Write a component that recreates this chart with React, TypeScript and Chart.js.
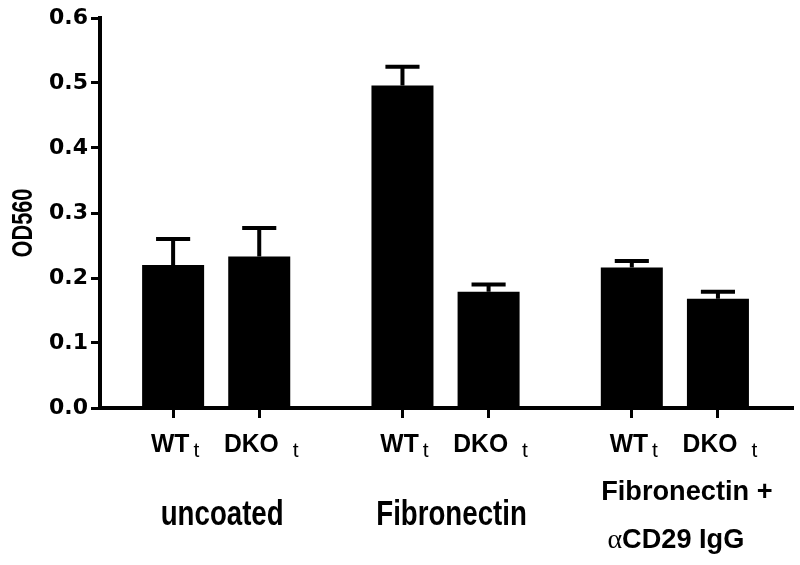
import React, { useEffect, useRef } from 'react';
import { Chart, registerables } from 'chart.js';

Chart.register(...registerables);

// ---- data ----
const groupLabelLines: string[][] = [['uncoated'], ['Fibronectin'], ['Fibronectin +', 'αCD29 IgG']];
const genotypes = ['WT', 'DKO'];
const genotypeSubscript = 't';
const meanWT = [0.22, 0.496, 0.216];
const meanDKO = [0.233, 0.179, 0.168];
const semWT = [0.04, 0.029, 0.01];
const semDKO = [0.044, 0.011, 0.011];
const yMin = 0;
const yMax = 0.6;
const yStep = 0.1;
const yAxisTitle = 'OD560';

// ---- layout constants (not data) ----
const GROUP_STEP = 2.663;
const X_MIN = -0.849;
const X_MAX = 2 * GROUP_STEP + 1 + 0.86;

const SANS = '"Liberation Sans", Arial, sans-serif';

type Run = { text: string; font: string; sx?: number; gap?: number; dy?: number };

function drawRuns(ctx: CanvasRenderingContext2D, runs: Run[], cx: number, baseline: number) {
  const widths = runs.map((r) => {
    ctx.font = r.font;
    return ctx.measureText(r.text).width * (r.sx ?? 1) + (r.gap ?? 0);
  });
  const total = widths.reduce((a, b) => a + b, 0);
  let x = cx - total / 2;
  runs.forEach((r, i) => {
    ctx.save();
    ctx.translate(x + (r.gap ?? 0), baseline + (r.dy ?? 0));
    ctx.scale(r.sx ?? 1, 1);
    ctx.font = r.font;
    ctx.textAlign = 'left';
    ctx.textBaseline = 'alphabetic';
    ctx.fillStyle = '#000';
    ctx.fillText(r.text, 0, 0);
    ctx.restore();
    x += widths[i];
  });
}

export default function App() {
  const ref = useRef<HTMLCanvasElement>(null);

  useEffect(() => {
    if (!ref.current) return;

    const points: { x: number; y: number }[] = [];
    const sems: number[] = [];
    const tickPositions: number[] = [];
    const tickGenotype: number[] = [];
    groupLabelLines.forEach((_, g) => {
      genotypes.forEach((_, i) => {
        const x = g * GROUP_STEP + i;
        const y = i === 0 ? meanWT[g] : meanDKO[g];
        points.push({ x, y });
        sems.push(i === 0 ? semWT[g] : semDKO[g]);
        tickPositions.push(x);
        tickGenotype.push(i);
      });
    });

    const errorBars = {
      id: 'errorBars',
      afterDatasetsDraw(chart: any) {
        const ctx = chart.ctx as CanvasRenderingContext2D;
        const meta = chart.getDatasetMeta(0);
        const yScale = chart.scales.y;
        ctx.save();
        ctx.strokeStyle = '#000';
        ctx.lineWidth = 4;
        meta.data.forEach((bar: any, idx: number) => {
          const v = points[idx].y;
          const top = yScale.getPixelForValue(v + sems[idx]);
          const y0 = yScale.getPixelForValue(v);
          const half = bar.width * 0.275;
          ctx.beginPath();
          ctx.moveTo(bar.x, y0);
          ctx.lineTo(bar.x, top);
          ctx.moveTo(bar.x - half, top);
          ctx.lineTo(bar.x + half, top);
          ctx.stroke();
        });
        ctx.restore();
      },
    };

    const labels = {
      id: 'customLabels',
      afterDraw(chart: any) {
        const ctx = chart.ctx as CanvasRenderingContext2D;
        const xs = chart.scales.x;
        const area = chart.chartArea;
        // genotype tick labels with subscript
        tickPositions.forEach((v, k) => {
          const px = xs.getPixelForValue(v);
          const gi = tickGenotype[k];
          drawRuns(
            ctx,
            [
              { text: genotypes[gi], font: `bold 26px ${SANS}`, sx: 0.95 },
              { text: genotypeSubscript, font: `21px ${SANS}`, gap: gi === 0 ? 4 : 14, dy: 5 },
            ],
            px + 2,
            area.bottom + 44
          );
        });
        // group labels
        groupLabelLines.forEach((lines, g) => {
          const mid = (xs.getPixelForValue(g * GROUP_STEP) + xs.getPixelForValue(g * GROUP_STEP + 1)) / 2;
          if (lines.length === 1) {
            drawRuns(ctx, [{ text: lines[0], font: `bold 35px ${SANS}`, sx: 0.79 }], mid + 6, area.bottom + 117);
          } else {
            drawRuns(ctx, [{ text: lines[0], font: `bold 28px ${SANS}`, sx: 0.97 }], mid + 12, area.bottom + 92);
            const l2 = lines[1];
            const first = l2.charAt(0);
            const rest = l2.slice(1);
            drawRuns(
              ctx,
              [
                { text: first, font: `28px "Liberation Serif", "DejaVu Serif", serif` },
                { text: rest, font: `bold 28px ${SANS}`, sx: 0.97 },
              ],
              mid + 1,
              area.bottom + 140
            );
          }
        });
        // y-axis title
        ctx.save();
        ctx.translate(31.5, (area.top + area.bottom) / 2 + 10);
        ctx.rotate(-Math.PI / 2);
        ctx.scale(0.75, 1);
        ctx.font = `bold 29px ${SANS}`;
        ctx.textAlign = 'center';
        ctx.textBaseline = 'alphabetic';
        ctx.fillStyle = '#000';
        ctx.fillText(yAxisTitle, 0, 0);
        ctx.restore();
      },
    };

    const chart = new Chart(ref.current, {
      type: 'bar',
      data: {
        datasets: [
          {
            data: points,
            backgroundColor: '#000',
            borderWidth: 0,
            categoryPercentage: 1,
            barPercentage: 0.72,
          },
        ],
      },
      options: {
        animation: false,
        responsive: false,
        layout: { padding: { top: 18, right: 8, left: 0, bottom: 0 } },
        plugins: { legend: { display: false }, tooltip: { enabled: false } },
        scales: {
          x: {
            type: 'linear',
            min: X_MIN,
            max: X_MAX,
            offset: false,
            afterBuildTicks: (s: any) => {
              s.ticks = tickPositions.map((v) => ({ value: v }));
            },
            afterFit: (s: any) => {
              s.height = 157;
            },
            ticks: { display: false },
            grid: {
              offset: false,
              drawOnChartArea: false,
              drawTicks: true,
              tickLength: 10,
              lineWidth: 3,
              color: '#000',
            },
            border: { display: true, color: '#000', width: 4 },
          },
          y: {
            min: yMin,
            max: yMax,
            afterBuildTicks: (s: any) => {
              const t = [];
              for (let v = yMin; v <= yMax + 1e-9; v += yStep) t.push({ value: Math.round(v * 10) / 10 });
              s.ticks = t;
            },
            afterFit: (s: any) => {
              s.width = 100;
            },
            ticks: {
              color: '#000',
              padding: 3,
              font: { family: '"DejaVu Sans", sans-serif', weight: 'bold', size: 22 },
              callback: (v: any) => Number(v).toFixed(1),
            },
            grid: {
              drawOnChartArea: false,
              drawTicks: true,
              tickLength: 9,
              lineWidth: 3,
              color: '#000',
            },
            border: { display: true, color: '#000', width: 4 },
          },
        },
      },
      plugins: [errorBars, labels],
    } as any);

    return () => chart.destroy();
  }, []);

  return (
    <div style={{ position: 'fixed', left: 0, top: 0, width: 800, height: 565, background: '#fff' }}>
      <canvas ref={ref} width={800} height={565} style={{ display: 'block' }} />
    </div>
  );
}
